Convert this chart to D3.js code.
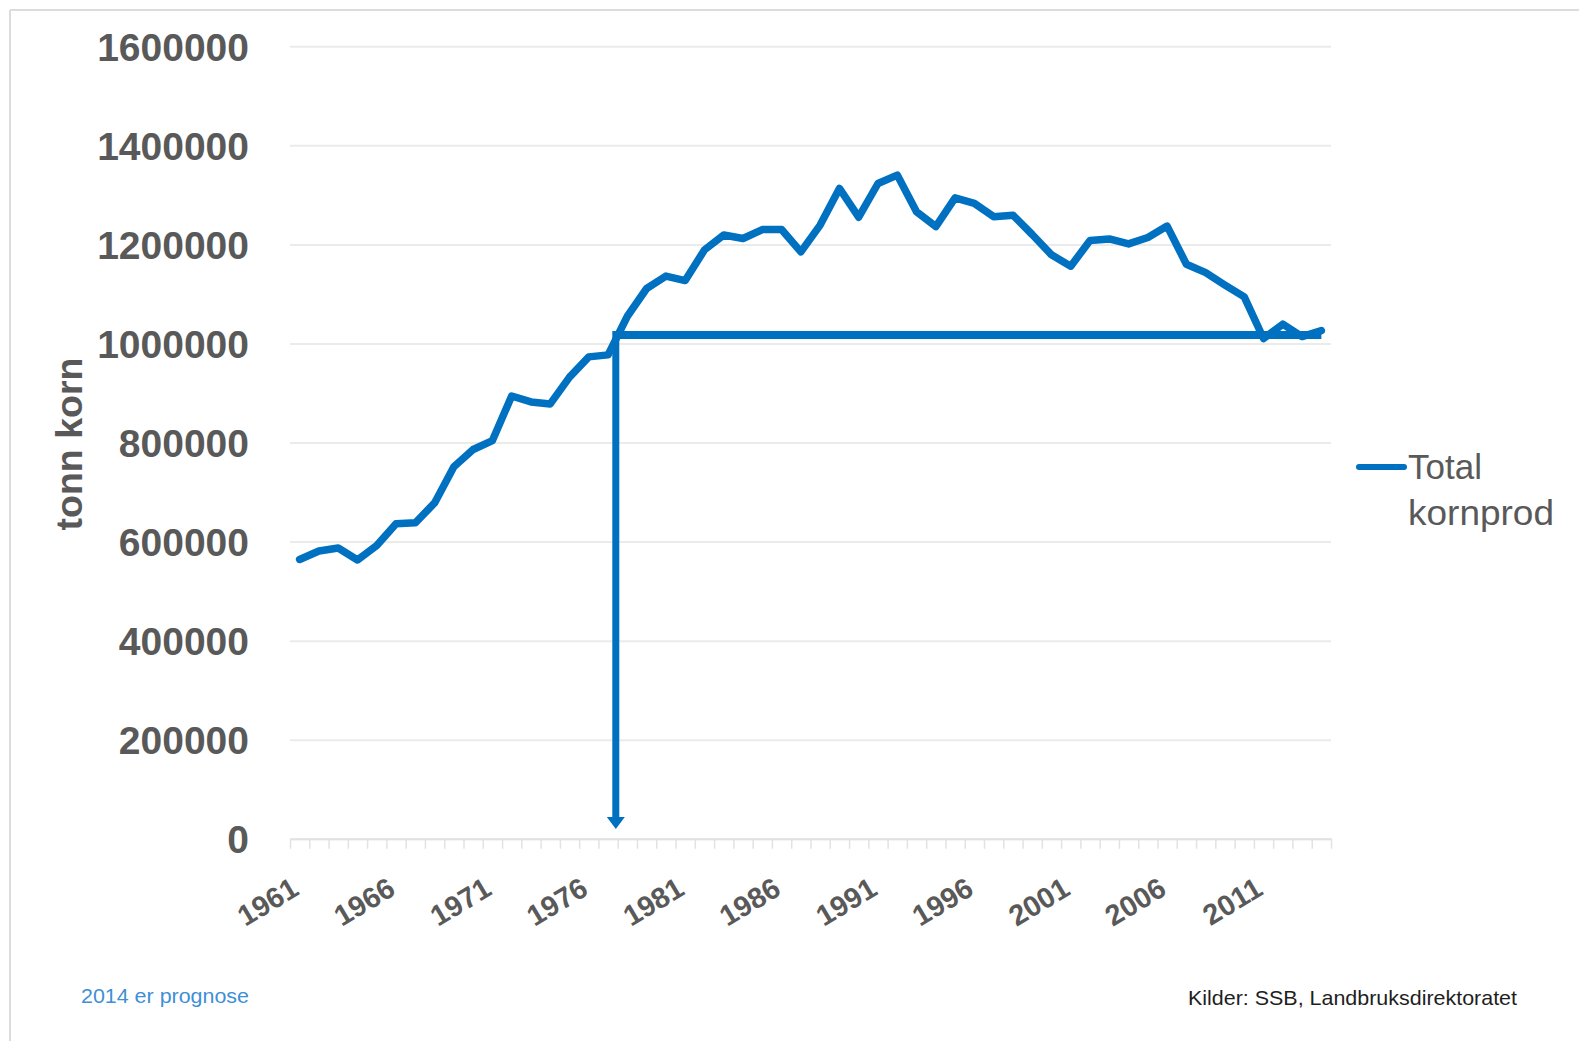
<!DOCTYPE html>
<html>
<head>
<meta charset="utf-8">
<script src="https://cdn.jsdelivr.net/npm/d3@7"></script>
<style>
  html, body { margin: 0; padding: 0; background: #fff; }
  svg { display: block; }
</style>
</head>
<body>
<svg id="chart" width="1579" height="1041"></svg>
<script>
const years = d3.range(1961, 2015);
const totalKornprod = [
  564000, 581000, 587000, 563000, 592000, 636000, 638000, 678000, 751000, 786000,
  804000, 894000, 882000, 878000, 932000, 973000, 977000, 1055000, 1111000, 1136000,
  1127000, 1189000, 1219000, 1212000, 1230000, 1230000, 1185000, 1239000, 1313000, 1255000,
  1323000, 1340000, 1266000, 1236000, 1294000, 1283000, 1256000, 1259000, 1220000, 1179000,
  1156000, 1208000, 1211000, 1201000, 1214000, 1237000, 1160000, 1143000, 1118000, 1094000,
  1010000, 1039000, 1014000, 1026000
];
const yTickValues = [0, 200000, 400000, 600000, 800000, 1000000, 1200000, 1400000, 1600000];
const xLabelYears = [1961, 1966, 1971, 1976, 1981, 1986, 1991, 1996, 2001, 2006, 2011];
const refLevel = 1017000;      // horizontal marker level
const refStartYear = 1977.4;   // where vertical arrow drops
const refEndYear = 2014;
const arrowTipValue = 20000;
const seriesName = ["Total", "kornprod"];
const yTitle = "tonn korn";
const noteLeft = "2014 er prognose";
const noteRight = "Kilder: SSB, Landbruksdirektoratet";

const BLUE = "#0070C0";
const GREY_TXT = "#595959";
const FONT = "Liberation Sans, Arial, sans-serif";

const svg = d3.select("#chart");

// frame (top and left borders)
svg.append("line").attr("x1", 10).attr("x2", 1579).attr("y1", 10).attr("y2", 10)
  .attr("stroke", "#dcdcdc").attr("stroke-width", 2);
svg.append("line").attr("x1", 10).attr("x2", 10).attr("y1", 10).attr("y2", 1041)
  .attr("stroke", "#dcdcdc").attr("stroke-width", 2);

const x0 = 290, x1 = 1331, yBottom = 838.8, yTop = 46.3;
const x = d3.scaleLinear().domain([years[0] - 0.5, years[years.length - 1] + 0.5]).range([x0, x1]);
const y = d3.scaleLinear().domain([0, 1600000]).range([yBottom, yTop]);

// y axis with gridlines
const yAxis = svg.append("g").attr("transform", `translate(${x0},0)`)
  .call(d3.axisLeft(y).tickValues(yTickValues).tickSize(-(x1 - x0)).tickPadding(41).tickFormat(d3.format("d")));
yAxis.select(".domain").remove();
yAxis.selectAll(".tick line").attr("stroke", "#ebebeb").attr("stroke-width", 2);
yAxis.selectAll(".tick text")
  .attr("fill", GREY_TXT).attr("font-family", FONT)
  .attr("font-weight", "bold").attr("font-size", 39).attr("dy", "0.36em");

// x axis with ticks between categories
const boundaries = d3.range(years[0] - 0.5, years[years.length - 1] + 1, 1);
const xAxis = svg.append("g").attr("transform", `translate(0,${yBottom})`)
  .call(d3.axisBottom(x).tickValues(boundaries).tickSizeInner(10).tickSizeOuter(0).tickFormat(""));
xAxis.select(".domain").attr("stroke", "#e2e2e2").attr("stroke-width", 2);
xAxis.selectAll(".tick line").attr("stroke", "#e2e2e2").attr("stroke-width", 1.5);

// x labels rotated
svg.append("g").selectAll("text").data(xLabelYears).join("text")
  .attr("transform", d => `translate(${x(d) + 1},${yBottom + 55}) rotate(-31)`)
  .attr("text-anchor", "end")
  .attr("fill", GREY_TXT).attr("font-family", FONT)
  .attr("font-weight", "bold").attr("font-size", 29)
  .text(d => d);

// y title
svg.append("text")
  .attr("transform", `translate(82,444) rotate(-90)`)
  .attr("text-anchor", "middle")
  .attr("fill", GREY_TXT).attr("font-family", FONT)
  .attr("font-weight", "bold").attr("font-size", 37.5)
  .text(yTitle);

// reference horizontal line
svg.append("line")
  .attr("x1", x(refStartYear)).attr("x2", x(refEndYear))
  .attr("y1", y(refLevel)).attr("y2", y(refLevel))
  .attr("stroke", BLUE).attr("stroke-width", 8);

// vertical arrow
const tipY = y(arrowTipValue);
svg.append("line")
  .attr("x1", x(refStartYear)).attr("x2", x(refStartYear))
  .attr("y1", y(refLevel) - 4).attr("y2", tipY - 10)
  .attr("stroke", BLUE).attr("stroke-width", 7);
svg.append("path")
  .attr("d", `M${x(refStartYear) - 9},${tipY - 12} L${x(refStartYear) + 9},${tipY - 12} L${x(refStartYear)},${tipY} Z`)
  .attr("fill", BLUE);

// series line
const line = d3.line().x((d, i) => x(years[i])).y(d => y(d));
svg.append("path").datum(totalKornprod)
  .attr("d", line)
  .attr("fill", "none").attr("stroke", BLUE).attr("stroke-width", 7.5)
  .attr("stroke-linejoin", "round").attr("stroke-linecap", "round");

// legend
svg.append("line").attr("x1", 1359).attr("x2", 1404).attr("y1", 467).attr("y2", 467)
  .attr("stroke", BLUE).attr("stroke-width", 6).attr("stroke-linecap", "round");
svg.append("text").attr("x", 1408).attr("y", 479)
  .attr("fill", GREY_TXT).attr("font-family", FONT).attr("font-size", 35)
  .text(seriesName[0]);
svg.append("text").attr("x", 1408).attr("y", 525)
  .attr("fill", GREY_TXT).attr("font-family", FONT).attr("font-size", 35)
  .attr("textLength", 146).attr("lengthAdjust", "spacingAndGlyphs")
  .text(seriesName[1]);

// footnotes
svg.append("text").attr("x", 81).attr("y", 1003)
  .attr("fill", "#3f8fd6").attr("font-family", FONT).attr("font-size", 21)
  .attr("textLength", 168).attr("lengthAdjust", "spacingAndGlyphs")
  .text(noteLeft);
svg.append("text").attr("x", 1188).attr("y", 1005)
  .attr("fill", "#1e1e1e").attr("font-family", FONT).attr("font-size", 21)
  .attr("textLength", 329).attr("lengthAdjust", "spacingAndGlyphs")
  .text(noteRight);
</script>
</body>
</html>
